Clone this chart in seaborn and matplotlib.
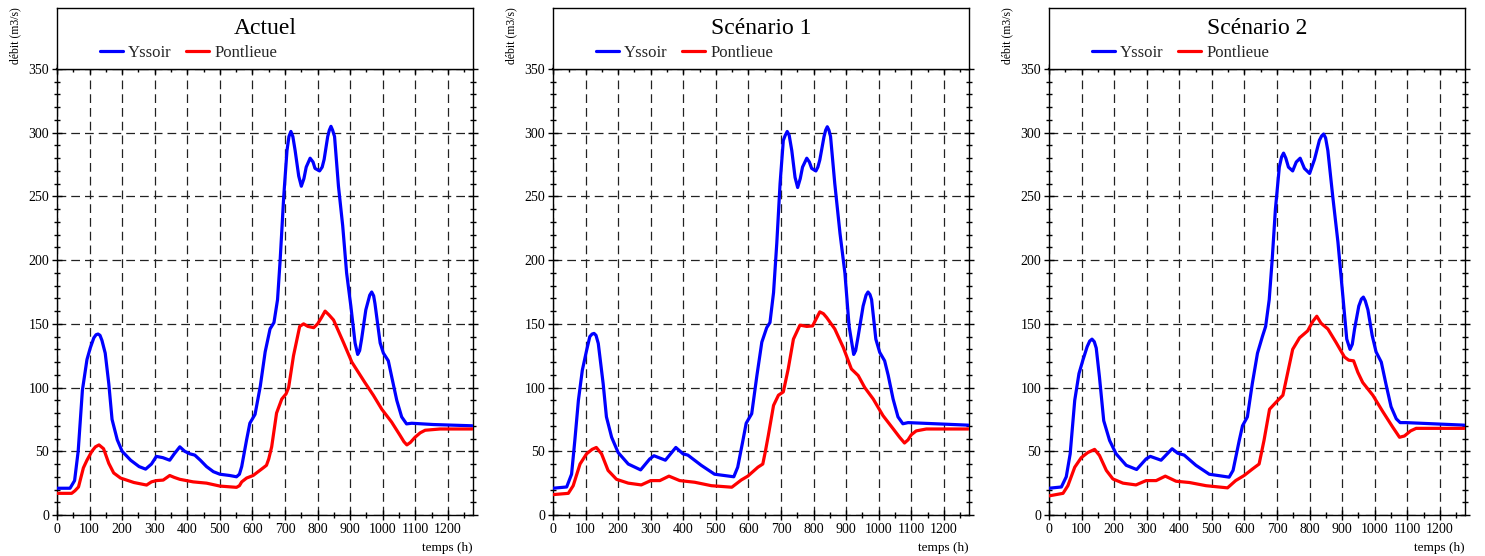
import numpy as np
import pandas as pd
import matplotlib
matplotlib.use('Agg')
import matplotlib.pyplot as plt
from matplotlib.ticker import MultipleLocator
import seaborn as sns

# --- data (time in h, discharge in m3/s) ---
titles = ['Actuel', 'Scénario 1', 'Scénario 2']
series_names = ['Yssoir', 'Pontlieue']

# Actuel
act_yssoir_t = [0, 40, 54, 65, 78, 92, 102, 113, 120, 126, 132, 138, 148, 159, 169, 185, 200, 226, 252,
                272, 290, 305, 325, 346, 360, 377, 392, 408, 423, 440, 459, 480, 500, 530, 551, 560, 567,
                582, 592, 600, 608, 616, 624, 639, 654, 666, 677, 685, 696, 706, 712, 718, 724, 731, 742,
                750, 758, 765, 777, 786, 792, 806, 814, 820, 831, 836, 841, 846, 852, 864, 877, 889, 902,
                915, 923, 929, 935, 948, 960, 966, 972, 976, 992, 1002, 1017, 1027, 1043, 1058, 1073,
                1089, 1155, 1275]
act_yssoir_q = [21, 21, 27, 50, 98, 122, 131, 139, 141.5, 142, 141, 137, 127, 103, 75, 59, 50, 43, 38,
                36, 40, 46, 45, 43, 48, 53.5, 50, 48, 47, 43, 38, 34, 32, 31, 30, 32, 38,
                59, 72, 75.5, 79, 90, 101, 128, 146, 151, 169, 200, 250, 286, 297, 301, 297, 286, 266,
                258, 264, 273, 280, 277, 272, 270, 273, 279, 297, 302, 305, 302, 297, 258, 227, 190, 164,
                135, 126, 129, 138, 161, 172.5, 175, 172, 166, 135, 127, 121, 109, 90, 77, 71.5,
                72, 71, 70]
act_pont_t = [0, 45, 55, 66, 81, 92, 107, 118, 129, 143, 159, 174, 195, 236, 275, 290, 305, 326, 346, 360,
              377, 418, 459, 500, 551, 560, 567, 582, 602, 633, 643, 650, 659, 674, 690, 703, 711, 726,
              745, 757, 770, 788, 800, 812, 823, 835, 849, 880, 905, 925, 945, 971, 997, 1027, 1053,
              1065, 1074, 1085, 1099, 1115, 1130, 1176, 1275]
act_pont_q = [17, 17, 19, 22, 37, 43, 50, 53.5, 55, 52, 40.5, 33, 29, 25.5, 23.5, 26, 27, 27.4, 31, 29.5,
              28, 26, 25, 22.7, 21.7, 23, 26, 29, 31, 37, 39, 44, 53.5, 80, 91, 95, 100, 125,
              148, 150, 148, 147, 150, 155, 160, 157, 153, 135, 120, 112, 104, 94, 83, 73, 62.5,
              57.5, 55, 57, 61, 64.5, 66.5, 67.5, 67.5]

# Scenario 1
sc1_yssoir_t = [0, 42, 57, 67, 78, 90, 103, 113, 120, 126, 132, 139, 154, 164, 180, 200, 231, 269, 297,
                310, 345, 377, 399, 414, 455, 496, 555, 567, 583, 593, 602, 610, 626, 641, 656, 666, 677,
                687, 697, 707, 713, 719, 725, 733, 743, 751, 759, 766, 779, 787, 794, 807, 813, 819, 832,
                837, 842, 847, 852, 865, 881, 896, 909, 923, 929, 937, 952, 961, 967, 973, 978, 991,
                1003, 1018, 1029, 1044, 1059, 1074, 1090, 1275]
sc1_yssoir_q = [21, 22, 32, 58.5, 90, 113.6, 129, 140, 142, 142.5, 141, 134.6, 103, 77, 61, 49, 40, 35.4, 44,
                46.5, 43, 53, 48, 47, 39, 32, 30, 37.5, 58.5, 72, 76, 79.5, 109.6, 135.6, 147, 151, 174.5,
                213.5, 260, 294, 298, 301, 298, 286, 265, 257, 264, 273, 280, 277, 272, 270, 273, 278.6, 297,
                302, 304.7, 302, 297, 260, 221, 190, 148, 126, 129, 140.6, 164, 172.5, 175, 173, 169, 138,
                127.6, 121, 109.6, 91, 77, 71.6, 72.5, 70.5]
sc1_pont_t = [0, 47, 62, 83, 103, 120, 133, 149, 169, 195, 231, 271, 300, 328, 356, 389, 435, 486, 549, 578,
              598, 629, 644, 652, 661, 677, 692, 707, 722, 738, 758, 779, 797, 808, 819, 830, 840, 865, 891,
              916, 937, 957, 983, 1013, 1044, 1064, 1079, 1090, 1100, 1115, 1146, 1275]
sc1_pont_q = [16, 17, 23, 40, 48, 51.5, 53, 48, 35, 28, 25, 23.6, 27, 27, 30.5, 27, 25.7, 23, 21.8, 27.5,
              30.5, 37.5, 40, 50, 62.5, 86, 94, 96.6, 114.6, 138, 149, 148, 148.4, 154, 159.4, 158, 155, 146,
              131.5, 114.6, 109.4, 100, 91, 78, 67.7, 61, 56.5, 59, 63, 66, 67.5, 67.5]

# Scenario 2
sc2_yssoir_t = [0, 38, 53, 65, 79, 92, 104, 117, 125, 132, 139, 145, 155, 168, 186, 206, 237, 269, 298,
                311, 344, 378, 395, 415, 451, 492, 553, 565, 584, 594, 609, 624, 640, 655, 665, 676, 685,
                695, 707, 714, 720, 727, 735, 748, 759, 771, 784, 800, 815, 830, 837, 843, 849, 856, 871,
                887, 902, 914, 924, 931, 938, 951, 959, 965, 971, 979, 992, 1004, 1020, 1035, 1050, 1066,
                1078, 1096, 1275]
sc2_yssoir_q = [21, 22, 30, 48, 90, 111, 121.5, 132, 136.5, 138, 136, 131, 108, 74, 58.5, 48, 39, 35.7, 44,
                46, 43, 52, 48.5, 47, 39, 32, 29.7, 35, 58.5, 70, 77, 103, 127, 140, 148, 169, 200,
                240, 273, 281, 284, 280, 273, 270, 277, 280, 272, 268, 279, 294, 297.5, 299, 296, 286, 250,
                214, 172, 138, 130, 134, 146, 164, 169.5, 171, 168, 161, 141, 128, 120, 102, 85, 75.5,
                72.5, 72.5, 70.5]
sc2_pont_t = [0, 43, 58, 79, 99, 119, 140, 155, 176, 196, 227, 267, 298, 329, 357, 390, 431, 482, 548,
              573, 599, 624, 645, 660, 677, 697, 718, 733, 748, 769, 794, 810, 822, 835, 856, 881, 907,
              920, 935, 948, 963, 994, 1025, 1055, 1076, 1091, 1110, 1127, 1275]
sc2_pont_q = [15, 17, 23, 37.5, 45, 49, 51.5, 46.7, 35, 28.3, 25, 23.6, 27, 27, 30.5, 26.5, 25.5, 23, 21.3,
              27, 31, 36, 40, 58.5, 83, 88.5, 94, 112, 130, 139, 144.5, 152, 156, 150.5, 146, 135.5, 124,
              121.5, 121, 112, 104, 94, 81, 69, 61, 62, 66, 68, 68]

x_ticks = list(range(0, 1300, 100))
y_ticks = list(range(0, 400, 50))

panels = [
    (act_yssoir_t, act_yssoir_q, act_pont_t, act_pont_q),
    (sc1_yssoir_t, sc1_yssoir_q, sc1_pont_t, sc1_pont_q),
    (sc2_yssoir_t, sc2_yssoir_q, sc2_pont_t, sc2_pont_q),
]
colors = ['#0000ff', '#ff0000']

sns.set_theme(style='ticks')
plt.rcParams['font.family'] = ['Liberation Serif', 'DejaVu Serif']
plt.rcParams['lines.solid_joinstyle'] = 'round'
plt.rcParams['lines.solid_capstyle'] = 'round'

W, H = 1485, 556
fig = plt.figure(figsize=(W / 100, H / 100), dpi=100)

lefts = [57, 553, 1049]
pw = 416
y_zero, y_top, box_top = 515, 69, 8

for i, (yt, yq, pt, pq) in enumerate(panels):
    left = lefts[i]
    ax = fig.add_axes([left / W, (H - y_zero) / H, pw / W, (y_zero - y_top) / H])
    head = fig.add_axes([left / W, (H - y_top) / H, pw / W, (y_top - box_top) / H])

    df = pd.concat([
        pd.DataFrame({'t': yt, 'q': yq, 'station': series_names[0]}),
        pd.DataFrame({'t': pt, 'q': pq, 'station': series_names[1]}),
    ])
    sns.lineplot(data=df, x='t', y='q', hue='station', palette=colors, estimator=None,
                 sort=False, lw=2.3, ax=ax, zorder=3)
    handles, labels = ax.get_legend_handles_labels()
    ax.get_legend().remove()

    ax.set_xlim(0, 1277)
    ax.set_ylim(0, 350)
    ax.set_xticks(x_ticks)
    ax.set_yticks(y_ticks)
    ax.xaxis.set_minor_locator(MultipleLocator(50))
    ax.yaxis.set_minor_locator(MultipleLocator(10))
    ax.tick_params(which='both', direction='inout', top=True, right=True,
                   labeltop=False, labelright=False, color='black', width=1.0,
                   labelsize=10, pad=2)
    ax.tick_params(which='major', length=7)
    ax.tick_params(which='minor', length=5)
    ax.grid(True, which='major', color='#222222', linestyle=(0, (7, 4)), lw=0.9)
    ax.set_xlabel('')
    ax.set_ylabel('')
    for sp in ax.spines.values():
        sp.set_color('black')
        sp.set_linewidth(1.0)
    ax.spines['top'].set_linewidth(1.6)
    for lab in ax.get_xticklabels() + ax.get_yticklabels():
        lab.set_color('black')

    ax.text(1.0, -0.074, 'temps (h)', transform=ax.transAxes, ha='right', va='center',
            fontsize=9.5, color='black')
    fig.text((left - 42) / W, (H - 36) / H, 'débit (m3/s)', rotation=90,
             ha='center', va='center', fontsize=8.5, color='black')

    # header box with title and legend
    head.set_xticks([])
    head.set_yticks([])
    for sp in head.spines.values():
        sp.set_color('black')
        sp.set_linewidth(1.0)
    head.text(0.5, 0.67, titles[i], ha='center', va='center', fontsize=17, color='black')
    head.legend(handles, labels, loc='center left', bbox_to_anchor=(0.103, 0.27), ncol=2,
                frameon=False, fontsize=12, handlelength=1.4, handletextpad=0.3,
                columnspacing=0.85, borderpad=0, borderaxespad=0)

fig.savefig('out.png', dpi=100)
